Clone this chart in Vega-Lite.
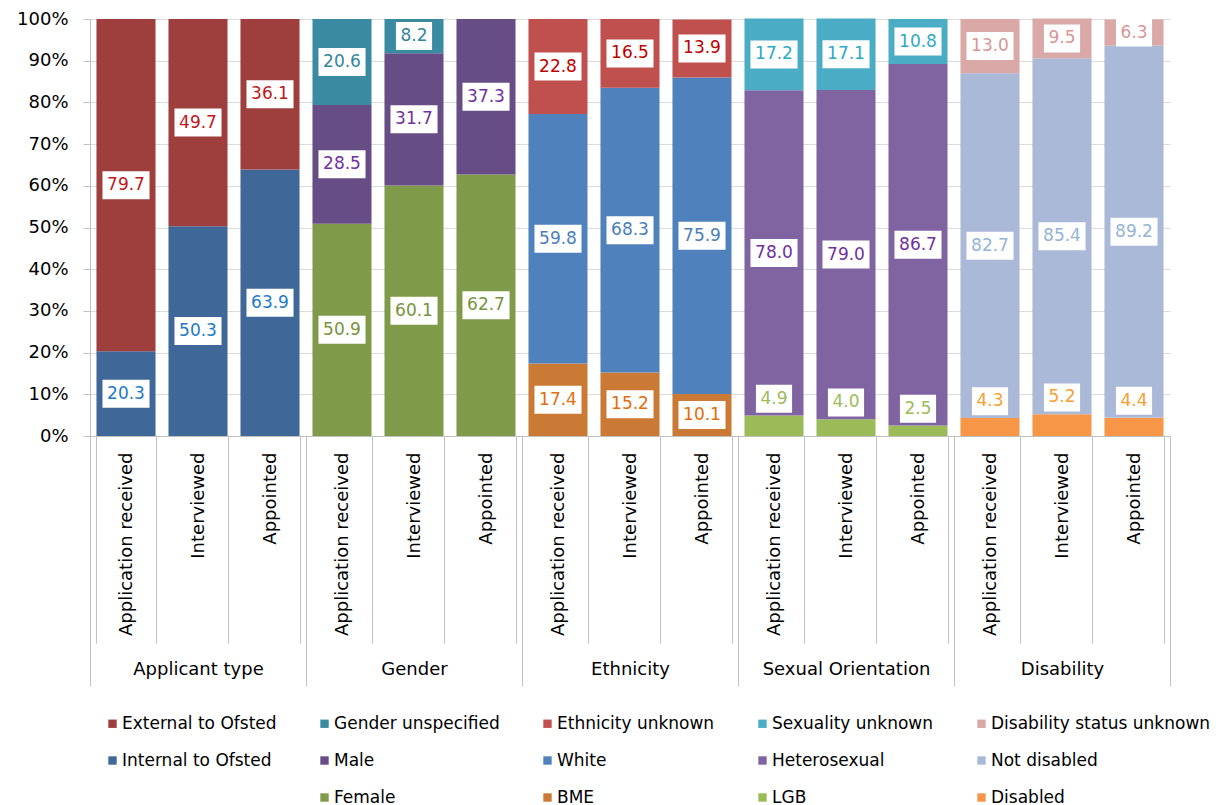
{
  "$schema": "https://vega.github.io/schema/vega-lite/v6.json",
  "width": 1080,
  "height": 417,
  "autosize": "none",
  "padding": {"left": 90, "top": 19, "right": 62, "bottom": 369},
  "background": "white",
  "config": {"view": {"stroke": null}, "font": "DejaVu Sans"},
  "data": {
    "values": [
      {"group": "Applicant type", "id": "Applicant type|Application received", "cat": "Internal to Ofsted", "k": 0, "v": 20.3},
      {"group": "Applicant type", "id": "Applicant type|Application received", "cat": "External to Ofsted", "k": 1, "v": 79.7},
      {"group": "Applicant type", "id": "Applicant type|Interviewed", "cat": "Internal to Ofsted", "k": 0, "v": 50.3},
      {"group": "Applicant type", "id": "Applicant type|Interviewed", "cat": "External to Ofsted", "k": 1, "v": 49.7},
      {"group": "Applicant type", "id": "Applicant type|Appointed", "cat": "Internal to Ofsted", "k": 0, "v": 63.9},
      {"group": "Applicant type", "id": "Applicant type|Appointed", "cat": "External to Ofsted", "k": 1, "v": 36.1},
      {"group": "Gender", "id": "Gender|Application received", "cat": "Female", "k": 0, "v": 50.9},
      {"group": "Gender", "id": "Gender|Application received", "cat": "Male", "k": 1, "v": 28.5},
      {"group": "Gender", "id": "Gender|Application received", "cat": "Gender unspecified", "k": 2, "v": 20.6},
      {"group": "Gender", "id": "Gender|Interviewed", "cat": "Female", "k": 0, "v": 60.1},
      {"group": "Gender", "id": "Gender|Interviewed", "cat": "Male", "k": 1, "v": 31.7},
      {"group": "Gender", "id": "Gender|Interviewed", "cat": "Gender unspecified", "k": 2, "v": 8.2},
      {"group": "Gender", "id": "Gender|Appointed", "cat": "Female", "k": 0, "v": 62.7},
      {"group": "Gender", "id": "Gender|Appointed", "cat": "Male", "k": 1, "v": 37.3},
      {"group": "Ethnicity", "id": "Ethnicity|Application received", "cat": "BME", "k": 0, "v": 17.4},
      {"group": "Ethnicity", "id": "Ethnicity|Application received", "cat": "White", "k": 1, "v": 59.8},
      {"group": "Ethnicity", "id": "Ethnicity|Application received", "cat": "Ethnicity unknown", "k": 2, "v": 22.8},
      {"group": "Ethnicity", "id": "Ethnicity|Interviewed", "cat": "BME", "k": 0, "v": 15.2},
      {"group": "Ethnicity", "id": "Ethnicity|Interviewed", "cat": "White", "k": 1, "v": 68.3},
      {"group": "Ethnicity", "id": "Ethnicity|Interviewed", "cat": "Ethnicity unknown", "k": 2, "v": 16.5},
      {"group": "Ethnicity", "id": "Ethnicity|Appointed", "cat": "BME", "k": 0, "v": 10.1},
      {"group": "Ethnicity", "id": "Ethnicity|Appointed", "cat": "White", "k": 1, "v": 75.9},
      {"group": "Ethnicity", "id": "Ethnicity|Appointed", "cat": "Ethnicity unknown", "k": 2, "v": 13.9},
      {"group": "Sexual Orientation", "id": "Sexual Orientation|Application received", "cat": "LGB", "k": 0, "v": 4.9},
      {"group": "Sexual Orientation", "id": "Sexual Orientation|Application received", "cat": "Heterosexual", "k": 1, "v": 78.0},
      {"group": "Sexual Orientation", "id": "Sexual Orientation|Application received", "cat": "Sexuality unknown", "k": 2, "v": 17.2},
      {"group": "Sexual Orientation", "id": "Sexual Orientation|Interviewed", "cat": "LGB", "k": 0, "v": 4.0},
      {"group": "Sexual Orientation", "id": "Sexual Orientation|Interviewed", "cat": "Heterosexual", "k": 1, "v": 79.0},
      {"group": "Sexual Orientation", "id": "Sexual Orientation|Interviewed", "cat": "Sexuality unknown", "k": 2, "v": 17.1},
      {"group": "Sexual Orientation", "id": "Sexual Orientation|Appointed", "cat": "LGB", "k": 0, "v": 2.5},
      {"group": "Sexual Orientation", "id": "Sexual Orientation|Appointed", "cat": "Heterosexual", "k": 1, "v": 86.7},
      {"group": "Sexual Orientation", "id": "Sexual Orientation|Appointed", "cat": "Sexuality unknown", "k": 2, "v": 10.8},
      {"group": "Disability", "id": "Disability|Application received", "cat": "Disabled", "k": 0, "v": 4.3},
      {"group": "Disability", "id": "Disability|Application received", "cat": "Not disabled", "k": 1, "v": 82.7},
      {"group": "Disability", "id": "Disability|Application received", "cat": "Disability status unknown", "k": 2, "v": 13.0},
      {"group": "Disability", "id": "Disability|Interviewed", "cat": "Disabled", "k": 0, "v": 5.2},
      {"group": "Disability", "id": "Disability|Interviewed", "cat": "Not disabled", "k": 1, "v": 85.4},
      {"group": "Disability", "id": "Disability|Interviewed", "cat": "Disability status unknown", "k": 2, "v": 9.5},
      {"group": "Disability", "id": "Disability|Appointed", "cat": "Disabled", "k": 0, "v": 4.4},
      {"group": "Disability", "id": "Disability|Appointed", "cat": "Not disabled", "k": 1, "v": 89.2},
      {"group": "Disability", "id": "Disability|Appointed", "cat": "Disability status unknown", "k": 2, "v": 6.3}
    ]
  },
  "layer": [
    {
      "encoding": {
        "x": {
          "field": "id",
          "type": "nominal",
          "title": null,
          "scale": {
            "type": "band",
            "paddingInner": 0.18,
            "paddingOuter": 0.09,
            "domain": [
              "Applicant type|Application received", "Applicant type|Interviewed", "Applicant type|Appointed",
              "Gender|Application received", "Gender|Interviewed", "Gender|Appointed",
              "Ethnicity|Application received", "Ethnicity|Interviewed", "Ethnicity|Appointed",
              "Sexual Orientation|Application received", "Sexual Orientation|Interviewed", "Sexual Orientation|Appointed",
              "Disability|Application received", "Disability|Interviewed", "Disability|Appointed"
            ]
          },
          "axis": {
            "grid": false,
            "tickBand": "extent",
            "tickSize": 207,
            "tickColor": "#c0c0c0",
            "domainColor": "#c0c0c0",
            "labelAngle": 270,
            "labelAlign": "right",
            "labelBaseline": "middle",
            "labelPadding": -191,
            "labelFont": "DejaVu Sans",
            "labelFontSize": 18,
            "labelColor": "#000000",
            "labelLimit": 0,
            "labelOverlap": false,
            "labelBound": false,
            "labelExpr": "split(datum.value, '|')[1]"
          }
        }
      },
      "layer": [
        {
          "mark": {"type": "bar"},
          "encoding": {
            "y": {
              "field": "v",
              "type": "quantitative",
              "stack": "zero",
              "title": null,
              "scale": {"domain": [0, 100], "nice": false},
              "axis": {
                "values": [0, 10, 20, 30, 40, 50, 60, 70, 80, 90, 100],
                "labelExpr": "datum.value + '%'",
                "tickSize": 7,
                "labelPadding": 15,
                "labelFont": "DejaVu Sans",
                "labelFontSize": 18,
                "labelColor": "#000000",
                "domainColor": "#c0c0c0",
                "tickColor": "#c0c0c0",
                "gridColor": "#dcdcdc",
                "grid": true
              }
            },
            "color": {
              "field": "cat",
              "type": "nominal",
              "scale": {
                "domain": [
                  "External to Ofsted", "Internal to Ofsted", " ",
                  "Gender unspecified", "Male", "Female",
                  "Ethnicity unknown", "White", "BME",
                  "Sexuality unknown", "Heterosexual", "LGB",
                  "Disability status unknown", "Not disabled", "Disabled"
                ],
                "range": [
                  "#9e3f3d", "#3f6899", "rgba(0,0,0,0)",
                  "#3a8ba2", "#674d85", "#7f9a48",
                  "#c0504d", "#4f81bd", "#cb7a35",
                  "#4bacc6", "#8064a2", "#9bbb59",
                  "#d9a8a7", "#aab9d7", "#f79646"
                ]
              },
              "legend": {
                "orient": "none",
                "legendX": 14,
                "legendY": 696,
                "columns": 5,
                "title": null,
                "symbolType": "square",
                "symbolSize": 70,
                "symbolStrokeWidth": 0,
                "labelFont": "DejaVu Sans",
                "labelFontSize": 17,
                "labelColor": "#000000",
                "labelOffset": 1,
                "labelLimit": 0,
                "columnPadding": 39,
                "rowPadding": 19,
                "padding": 0
              }
            },
            "order": {"field": "k", "type": "quantitative"}
          }
        },
        {
          "mark": {"type": "point", "filled": true, "size": 784, "strokeWidth": 0, "color": "white"},
          "encoding": {
            "y": {"field": "v", "type": "quantitative", "stack": "zero", "bandPosition": 0.5, "title": null},
            "detail": {"field": "cat"},
            "order": {"field": "k", "type": "quantitative"},
            "shape": {
              "condition": {"test": "datum.v < 10", "value": "M-1.29,-1H1.29V1H-1.29Z"},
              "value": "M-1.68,-1H1.68V1H-1.68Z"
            },
            "opacity": {"condition": {"test": "datum.k == 0 && datum.v < 6", "value": 0}, "value": 1}
          }
        },
        {
          "transform": [{"filter": "datum.k == 0 && datum.v < 6"}],
          "mark": {"type": "point", "filled": true, "size": 784, "strokeWidth": 0, "color": "white", "opacity": 1, "shape": "M-1.29,-2.21H1.29V-0.21H-1.29Z"},
          "encoding": {
            "y": {"field": "v", "type": "quantitative", "title": null}
          }
        },
        {
          "mark": {"type": "text", "font": "DejaVu Sans", "fontSize": 17, "baseline": "middle", "align": "center"},
          "encoding": {
            "y": {"field": "v", "type": "quantitative", "stack": "zero", "bandPosition": 0.5, "title": null},
            "text": {"field": "v", "type": "quantitative", "format": ".1f"},
            "color": {
              "field": "cat",
              "type": "nominal",
              "legend": null,
              "scale": {
                "domain": ["External to Ofsted", "Internal to Ofsted", "Gender unspecified", "Male", "Female", "Ethnicity unknown", "White", "BME", "Sexuality unknown", "Heterosexual", "LGB", "Disability status unknown", "Not disabled", "Disabled"],
                "range": ["#c0171c", "#1e7ac8", "#31859c", "#7030a0", "#77933c", "#c00000", "#4a7ebb", "#e46c0a", "#2ea9c5", "#7030a0", "#9bbb59", "#d99694", "#95b3d7", "#f7a030"]
              }
            },
            "order": {"field": "k", "type": "quantitative"},
            "opacity": {"condition": {"test": "datum.k == 0 && datum.v < 6", "value": 0}, "value": 1}
          }
        },
        {
          "transform": [{"filter": "datum.k == 0 && datum.v < 6"}],
          "mark": {"type": "text", "font": "DejaVu Sans", "fontSize": 17, "baseline": "middle", "align": "center", "dy": -17},
          "encoding": {
            "y": {"field": "v", "type": "quantitative", "title": null},
            "text": {"field": "v", "type": "quantitative", "format": ".1f"},
            "color": {
              "field": "cat",
              "type": "nominal",
              "legend": null,
              "scale": {
                "domain": ["LGB", "Disabled"],
                "range": ["#9bbb59", "#f7a030"]
              }
            }
          }
        }
      ],
      "resolve": {"scale": {"color": "independent"}}
    },
    {
      "mark": {"type": "text", "text": ""},
      "encoding": {
        "x": {
          "field": "group",
          "type": "nominal",
          "title": null,
          "scale": {
            "type": "band",
            "paddingInner": 0,
            "paddingOuter": 0,
            "domain": ["Applicant type", "Gender", "Ethnicity", "Sexual Orientation", "Disability"]
          },
          "axis": {
            "orient": "bottom",
            "domain": false,
            "grid": false,
            "tickBand": "extent",
            "tickSize": 250,
            "tickColor": "#c0c0c0",
            "labelPadding": -26,
            "labelAngle": 0,
            "labelFont": "DejaVu Sans",
            "labelFontSize": 18,
            "labelColor": "#000000",
            "labelLimit": 0
          }
        }
      }
    }
  ],
  "resolve": {"scale": {"x": "independent"}, "axis": {"x": "independent"}}
}
